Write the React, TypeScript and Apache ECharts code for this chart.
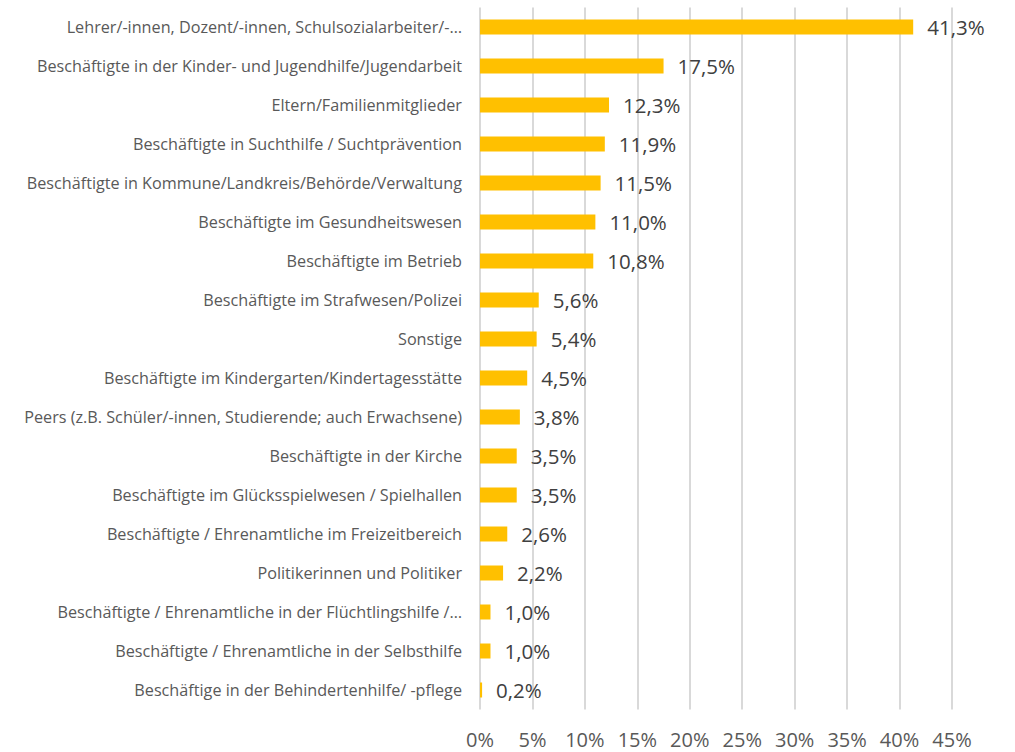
import React, { useEffect, useRef } from "react";
import * as echarts from "echarts";

const categories: string[] = [
  "Lehrer/-innen, Dozent/-innen, Schulsozialarbeiter/-…",
  "Beschäftigte in der Kinder- und Jugendhilfe/Jugendarbeit",
  "Eltern/Familienmitglieder",
  "Beschäftigte in Suchthilfe / Suchtprävention",
  "Beschäftigte in Kommune/Landkreis/Behörde/Verwaltung",
  "Beschäftigte im Gesundheitswesen",
  "Beschäftigte im Betrieb",
  "Beschäftigte im Strafwesen/Polizei",
  "Sonstige",
  "Beschäftigte im Kindergarten/Kindertagesstätte",
  "Peers (z.B. Schüler/-innen, Studierende; auch Erwachsene)",
  "Beschäftigte in der Kirche",
  "Beschäftigte im Glücksspielwesen / Spielhallen",
  "Beschäftigte / Ehrenamtliche im Freizeitbereich",
  "Politikerinnen und Politiker",
  "Beschäftigte / Ehrenamtliche in der Flüchtlingshilfe /…",
  "Beschäftigte / Ehrenamtliche in der Selbsthilfe",
  "Beschäftige in der Behindertenhilfe/ -pflege",
];

const values: number[] = [41.3, 17.5, 12.3, 11.9, 11.5, 11.0, 10.8, 5.6, 5.4, 4.5, 3.8, 3.5, 3.5, 2.6, 2.2, 1.0, 1.0, 0.2];

const axisMin = 0;
const axisMax = 45;
const axisStep = 5;

const FONT = "'Open Sans', 'Noto Sans', sans-serif";

export default function App() {
  const ref = useRef<HTMLDivElement>(null);
  useEffect(() => {
    document.body.style.margin = "0";
    if (!ref.current) return;
    const chart = echarts.init(ref.current, undefined, { renderer: "svg" });
    chart.setOption({
      animation: false,
      backgroundColor: "#ffffff",
      grid: { left: 480, right: 63, top: 7.5, bottom: 42.5, containLabel: false },
      xAxis: {
        type: "value",
        min: axisMin,
        max: axisMax,
        interval: axisStep,
        axisLine: { show: false },
        axisTick: { show: false },
        splitLine: { show: true, lineStyle: { color: "#D9D9D9", width: 2 } },
        axisLabel: {
          formatter: (v: number) => `${v}%`,
          color: "#595959",
          fontSize: 20,
          lineHeight: 20,
          fontFamily: FONT,
          margin: 20,
        },
      },
      yAxis: {
        type: "category",
        data: categories,
        inverse: true,
        axisLine: { show: false },
        axisTick: { show: false },
        axisLabel: {
          color: "#595959",
          fontSize: 16.2,
          fontFamily: FONT,
          margin: 18,
        },
      },
      series: [
        {
          type: "bar",
          data: values,
          barWidth: 15,
          itemStyle: { color: "#FFC000" },
          label: {
            show: true,
            position: "right",
            distance: 14,
            color: "#404040",
            fontSize: 20.5,
            fontFamily: FONT,
            formatter: (p: any) => `${p.value.toFixed(1).replace(".", ",")}%`,
          },
        },
      ],
    });
    return () => chart.dispose();
  }, []);
  return <div ref={ref} style={{ width: 1015, height: 752 }} />;
}
